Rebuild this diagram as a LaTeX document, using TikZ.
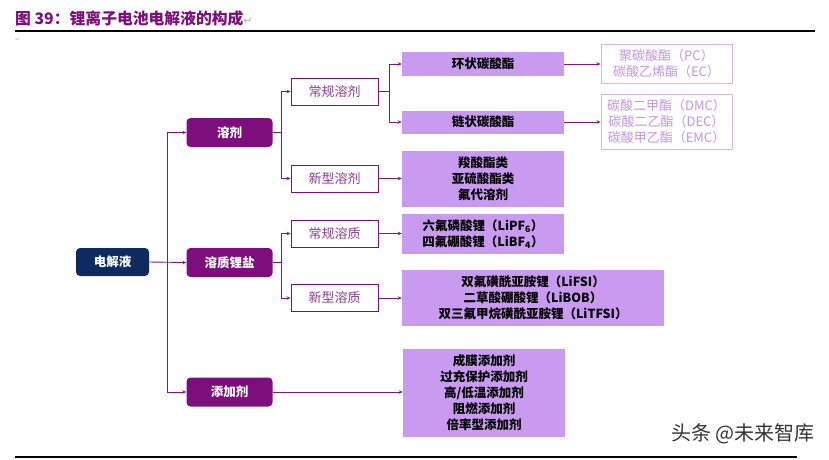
\documentclass[tikz,border=0pt]{standalone}
\usepackage{fontspec}
\setmainfont{Noto Sans CJK SC}
\newfontfamily\symfont{DejaVu Sans}
\usetikzlibrary{arrows.meta}
\definecolor{mpurple}{RGB}{125,15,125}
\definecolor{navy}{RGB}{14,42,94}
\definecolor{lav}{RGB}{200,155,240}
\definecolor{gborder}{RGB}{215,180,235}
\definecolor{gtext}{RGB}{195,150,225}
\definecolor{otext}{RGB}{140,60,140}
\definecolor{arrcol}{RGB}{125,25,125}
\begin{document}
\begin{tikzpicture}[x=1pt,y=-1pt,
  mainbox/.style={fill=mpurple, rounded corners=4pt, text=white, font=\fontsize{12.5}{14}\selectfont\bfseries, minimum width=86pt, minimum height=29pt, inner sep=0pt},
  rootbox/.style={fill=navy, rounded corners=4pt, text=white, font=\fontsize{12.5}{14}\selectfont\bfseries, minimum width=73pt, minimum height=28pt, inner sep=0pt},
  outbox/.style={draw=mpurple, line width=0.9pt, fill=white, text=otext, font=\fontsize{13}{14}\selectfont, minimum width=87pt, minimum height=27pt, inner sep=0pt},
  lavbox/.style={fill=lav, text=black, font=\fontsize{12.5}{16}\selectfont\bfseries, align=center, minimum width=162pt, inner sep=0pt},
  greybox/.style={draw=gborder, line width=0.9pt, fill=white, text=gtext, font=\fontsize{13}{16}\selectfont, align=center, minimum width=131pt, inner sep=0pt},
  arr/.style={draw=arrcol, line width=0.9pt, -{Stealth[length=4pt,width=3.5pt]}},
  ln/.style={draw=arrcol, line width=0.9pt}
]
\useasboundingbox (0,0) rectangle (829,459);
% title
\node[anchor=west, inner sep=0pt, text=mpurple, font=\fontsize{15.8}{17}\selectfont\bfseries] (title) at (15,18) {图 39：锂离子电池电解液的构成{\color{gray!60}\symfont\mdseries\fontsize{11}{12}\selectfont ↵}};
\draw[line width=1.3pt] (15,31) -- (815,31);
\node[anchor=west, inner sep=0pt, text=gray!60, font=\symfont\fontsize{6}{7}\selectfont] (ret) at (15,40) {↵};
\draw[line width=1.3pt] (15,457) -- (797,457);
\node[anchor=east, inner sep=0pt, text=black!80, font=\fontsize{20}{22}\selectfont] (wm) at (815,434) {头条 @未来智库};

% nodes
\node[rootbox] (ely) at (112.5,262) {电解液};
\node[mainbox] (solv) at (229.5,132.5) {溶剂};
\node[mainbox] (salt) at (229.5,262.5) {溶质锂盐};
\node[mainbox] (addi) at (229.5,392) {添加剂};

\node[outbox] (convs) at (334.5,91.5) {常规溶剂};
\node[outbox] (news) at (334.5,178.5) {新型溶剂};
\node[outbox] (convl) at (334.5,233.5) {常规溶质};
\node[outbox] (newl) at (334.5,298) {新型溶质};

\node[lavbox, minimum height=24pt] (cyc) at (483,64) {环状碳酸酯};
\node[lavbox, minimum height=23pt] (chain) at (483,122) {链状碳酸酯};
\node[lavbox, minimum height=56pt] (nsolv) at (483,179) {羧酸酯类\\亚硫酸酯类\\氟代溶剂};
\node[lavbox, minimum height=40pt] (csalt) at (483,234) {六氟磷酸锂（LiPF\textsubscript{6}）\\四氟硼酸锂（LiBF\textsubscript{4}）};
\node[lavbox, minimum height=56pt, minimum width=262pt] (nsalt) at (533,298) {双氟磺酰亚胺锂（LiFSI）\\二草酸硼酸锂（LiBOB）\\双三氟甲烷磺酰亚胺锂（LiTFSI）};
\node[lavbox, minimum height=88pt] (adds) at (484,393) {成膜添加剂\\过充保护添加剂\\高/低温添加剂\\阻燃添加剂\\倍率型添加剂};

\node[greybox, minimum height=39pt] (pc) at (666.5,63.5) {聚碳酸酯（PC）\\碳酸乙烯酯（EC）};
\node[greybox, minimum height=55pt] (dmc) at (666.5,121.5) {碳酸二甲酯（DMC）\\碳酸二乙酯（DEC）\\碳酸甲乙酯（EMC）};

% connectors
\draw[arr] (ely.east) -- (salt.west);
\draw[arr] (ely.east) ++(18,0) |- (solv.west);
\draw[arr] (ely.east) ++(18,0) |- (addi.west);

\draw[arr] (solv.east) -- ++(9,0) |- (convs.west);
\draw[arr] (solv.east) -- ++(9,0) |- (news.west);
\draw[arr] (salt.east) -- ++(9,0) |- (convl.west);
\draw[arr] (salt.east) -- ++(9,0) |- (newl.west);

\draw[arr] (convs.east) -- ++(11,0) |- (cyc.west);
\draw[arr] (convs.east) -- ++(11,0) |- (chain.west);
\draw[arr] (news.east) -- (news.east -| nsolv.west);
\draw[arr] (convl.east) -- (convl.east -| csalt.west);
\draw[arr] (newl.east) -- (newl.east -| nsalt.west);
\draw[arr] (addi.east) -- (addi.east -| adds.west);

\draw[arr] (cyc.east) -- (cyc.east -| pc.west);
\draw[arr] (chain.east) -- (chain.east -| dmc.west);
\end{tikzpicture}
\end{document}
